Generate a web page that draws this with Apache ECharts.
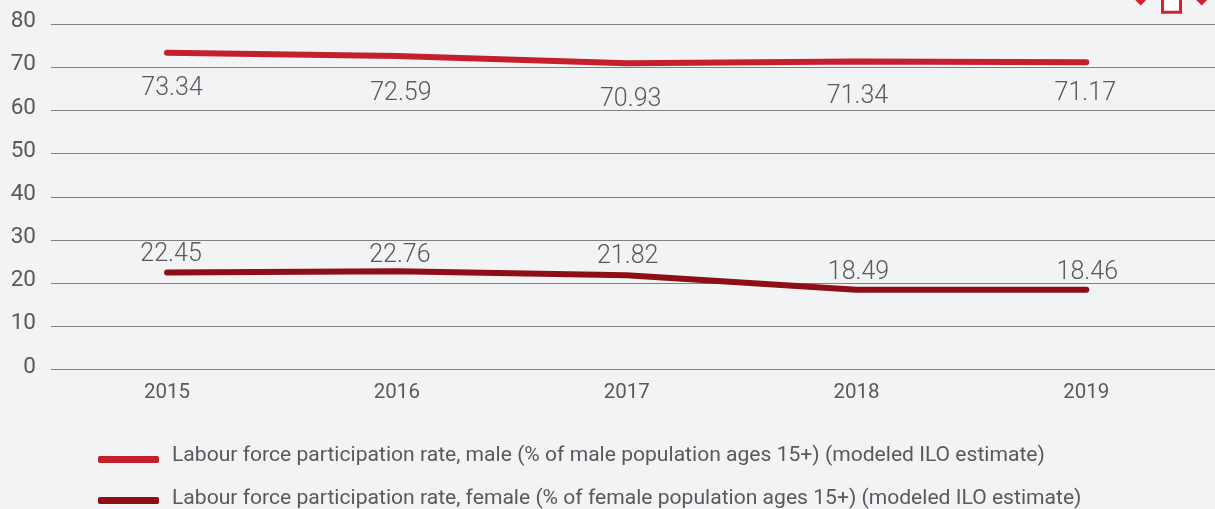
<!DOCTYPE html>
<html>
<head>
<meta charset="utf-8">
<style>
  html, body { margin: 0; padding: 0; background: #f1f3f5; }
  #chart { width: 1215px; height: 509px; }
</style>
<script src="https://cdn.jsdelivr.net/npm/echarts@6/dist/echarts.min.js"></script>
</head>
<body>
<div id="chart"></div>
<script>
const years = [2015, 2016, 2017, 2018, 2019]
const maleName = 'Labour force participation rate, male (% of male population ages 15+) (modeled ILO estimate)'
const femaleName = 'Labour force participation rate, female (% of female population ages 15+) (modeled ILO estimate)'
const maleValues = [73.34, 72.59, 70.93, 71.34, 71.17]
const femaleValues = [22.45, 22.76, 21.82, 18.49, 18.46]

const textColor = '#58595b'
const font = 'Roboto'

// the value labels sit at uneven distances from the lines in the original
const maleLabelShift = [[5, 36], [4, 38], [4, 37], [1, 35], [-1, 32]]
const femaleLabelShift = [[4, -18], [3, -15], [1, -19], [2, -17], [1, -17]]

function points(values, shifts) {
  return values.map((v, i) => ({
    value: [years[i], v],
    label: {offset: shifts[i]},
  }))
}

function lineSeries(name, values, shifts, color) {
  return {
    name,
    type: 'line',
    data: points(values, shifts),
    // labels need a symbol, this one stays hidden under the line
    symbol: 'circle',
    symbolSize: 1,
    lineStyle: {color, width: 6, cap: 'round'},
    itemStyle: {color},
    label: {
      show: true,
      position: 'inside',
      formatter: p => p.value[1].toFixed(2),
      fontFamily: font,
      fontSize: 25,
      fontWeight: 300,
      color: textColor,
    },
  }
}

function diamond(cx) {
  return {type: 'polygon', shape: {points: [[cx - 5.5, 0], [cx, 5.5], [cx + 5.5, 0], [cx, -5.5]]}, style: {fill: '#d5202e'}}
}

const legendText = {fontFamily: font, fontSize: 21.1, color: textColor}
const yLabelText = {fontFamily: font, fontSize: 22.5, color: textColor}

const chart = echarts.init(document.getElementById('chart'))
chart.setOption({
  backgroundColor: '#f1f3f5',
  animation: false,
  grid: {left: 51, right: 0, top: 24, bottom: 139.5},
  xAxis: {
    type: 'value',
    min: 2014.495,
    max: 2019.56,
    splitLine: {show: false},
    axisLine: {show: false},
    axisTick: {show: false},
    axisLabel: {
      customValues: years,
      formatter: v => String(v),
      fontFamily: font,
      fontSize: 20.5,
      color: textColor,
      margin: 13,
    },
  },
  yAxis: {
    type: 'value',
    min: 0,
    max: 80,
    interval: 10,
    axisLine: {show: false},
    axisTick: {show: false},
    splitLine: {lineStyle: {color: '#7f8080', width: 1}},
    axisLabel: {
      ...yLabelText,
      margin: 15,
      align: 'right',
      formatter: v => `{t|${v}}`,
      // tick labels sit a little above their grid lines
      rich: {t: {...yLabelText, padding: [0, 0, 5, 0]}},
    },
  },
  legend: {
    orient: 'vertical',
    left: 98,
    top: 445,
    height: 100,
    padding: 0,
    itemWidth: 61,
    itemHeight: 7,
    itemGap: 22,
    icon: 'roundRect',
    data: [maleName, femaleName],
    formatter: name => `{${name === maleName ? 'm' : 'f'}|${name}}`,
    textStyle: {
      ...legendText,
      rich: {
        m: {...legendText, padding: [0, 0, 8, 8]},
        f: {...legendText, padding: [0, 0, 4, 8]},
      },
    },
  },
  graphic: [
    {type: 'rect', shape: {x: 1162.5, y: -4, width: 18, height: 16.2}, style: {fill: '#fff', stroke: '#d5202e', lineWidth: 3}},
    diamond(1140.7),
    diamond(1201.7),
  ],
  series: [
    lineSeries(maleName, maleValues, maleLabelShift, '#c51f2e'),
    lineSeries(femaleName, femaleValues, femaleLabelShift, '#8e0e17'),
  ],
})
</script>
</body>
</html>
